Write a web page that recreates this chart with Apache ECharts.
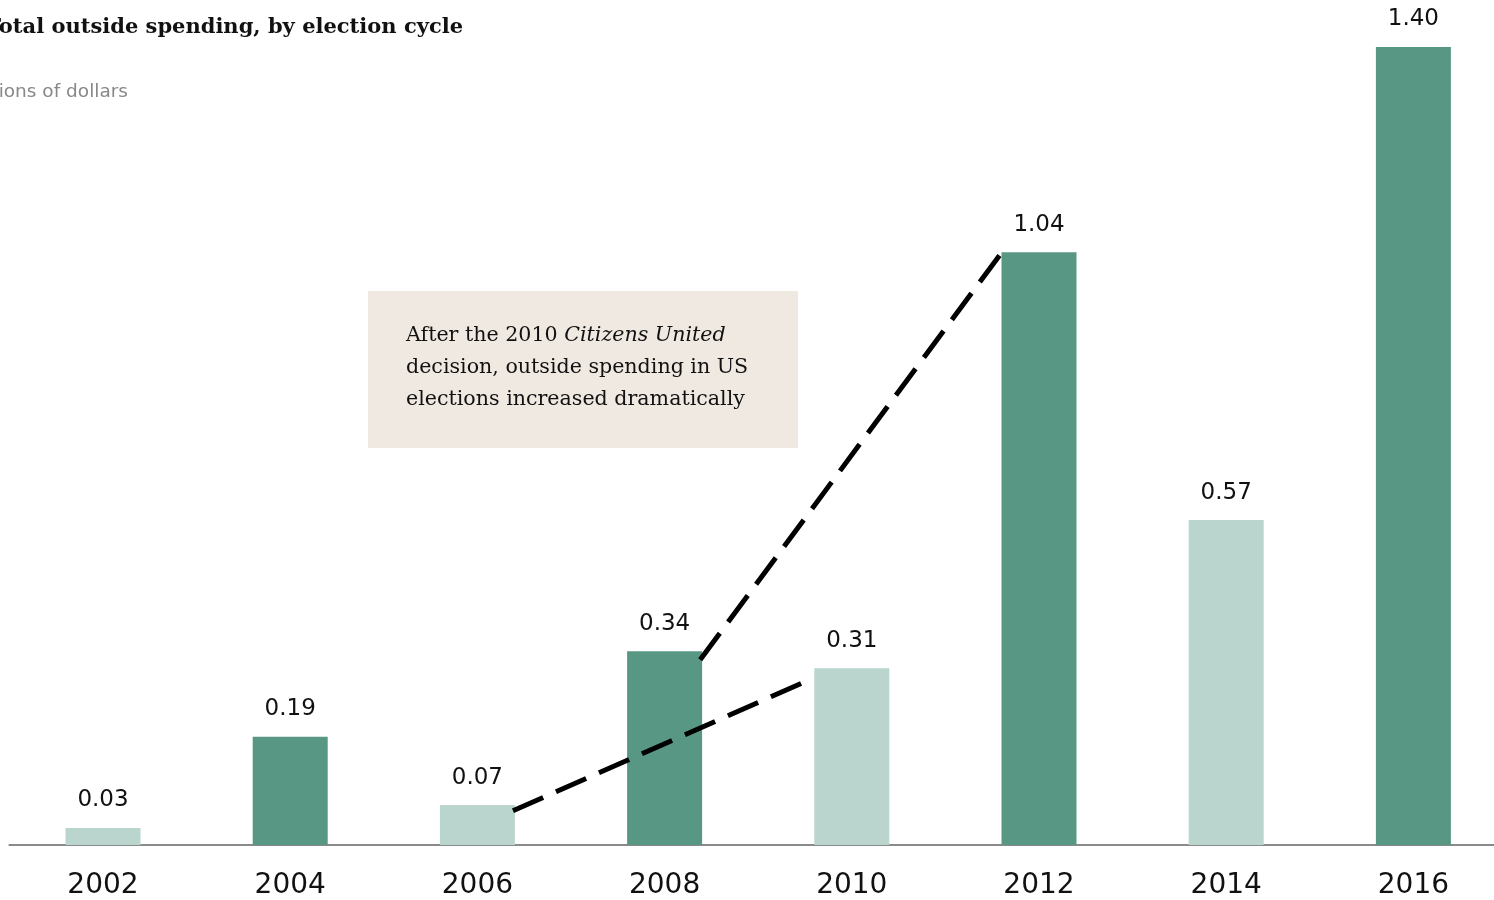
<!DOCTYPE html>
<html>
<head>
<meta charset="utf-8">
<script src="https://cdn.jsdelivr.net/npm/echarts@6/dist/echarts.min.js"></script>
<style>
html,body{margin:0;padding:0;background:#fff;overflow:hidden;width:1494px;height:900px;}
#chart{width:1507px;height:900px;}
</style>
</head>
<body>
<div id="chart"></div>
<script>
// ---- data ----
const years = ['2002','2004','2006','2008','2010','2012','2014','2016'];
const spending = [0.03, 0.19, 0.07, 0.34, 0.31, 1.04, 0.57, 1.40]; // billions of dollars
const presidentialCycle = [false, true, false, true, false, true, false, true];
// dashed connectors: from year -> to year, with the heights (billions) where each end meets its bar
const connectorFrom = ['2006', '2008'];
const connectorTo = ['2010', '2012'];
const connectorStartValue = [0.06, 0.325];
const connectorEndValue = [0.293, 1.037];
const titleText = 'Total outside spending, by election cycle';
const subtitleText = 'Billions of dollars';

// ---- styles ----
const DARK = '#579783';
const LIGHT = '#B9D5CE';
const BAR_HALF = 0.2; // half bar width in category units

const chart = echarts.init(document.getElementById('chart'), null, {renderer: 'canvas'});

const barData = spending.map((v, i) => ({
  value: v,
  itemStyle: {color: presidentialCycle[i] ? DARK : LIGHT}
}));

const lineSeries = connectorFrom.map((fy, k) => {
  const a = years.indexOf(fy), b = years.indexOf(connectorTo[k]);
  return {
    type: 'line',
    xAxisIndex: 1,
    yAxisIndex: 0,
    data: [[a + BAR_HALF - 0.01, connectorStartValue[k]], [b - BAR_HALF - 0.005, connectorEndValue[k]]],
    symbol: 'none',
    silent: true,
    z: 5,
    lineStyle: {color: '#000', width: 5, type: [33, 14]}
  };
});

chart.setOption({
  animation: false,
  backgroundColor: '#fff',
  grid: {left: 9.4, right: 0, top: 47, bottom: 54, containLabel: false},
  xAxis: [{
    type: 'category',
    data: years,
    boundaryGap: true,
    axisLine: {lineStyle: {color: '#8a8a8a', width: 2}},
    axisTick: {show: false},
    axisLabel: {color: '#111', fontFamily: 'DejaVu Sans', fontSize: 28, margin: 27}
  }, {
    type: 'value',
    min: -0.5, max: 7.5,
    show: false
  }],
  yAxis: {
    type: 'value', min: 0, max: 1.40, show: false
  },
  series: [{
    type: 'bar',
    data: barData,
    barWidth: 75,
    label: {
      show: true, position: 'top', distance: 16,
      color: '#111', fontFamily: 'DejaVu Sans', fontSize: 23,
      formatter: p => p.value.toFixed(2)
    }
  }].concat(lineSeries),
  graphic: [
    {type: 'text', x: 463, y: 17,
     style: {text: titleText, fill: '#111', font: 'bold 21px "DejaVu Serif"', textAlign: 'right', textVerticalAlign: 'top'}},
    {type: 'text', x: 128, y: 83,
     style: {text: subtitleText, fill: '#888', font: '18.5px "DejaVu Sans"', textAlign: 'right', textVerticalAlign: 'top'}},
    {type: 'rect', shape: {x: 368, y: 291, width: 430, height: 157},
     style: {fill: '#F0E9E2'}, z: 1},
    {type: 'text', x: 406, y: 320, z: 2,
     style: {
       text: '{n|After the 2010 }{i|Citizens United}\n{n|decision, outside spending in US}\n{n|elections increased dramatically}',
       verticalAlign: 'top',
       rich: {
         n: {fontFamily: 'DejaVu Serif', fontSize: 20.6, lineHeight: 32, fill: '#111', color: '#111'},
         i: {fontFamily: 'DejaVu Serif', fontStyle: 'italic', fontSize: 20.6, lineHeight: 32, fill: '#111', color: '#111'}
       }
     }}
  ]
});
</script>
</body>
</html>
